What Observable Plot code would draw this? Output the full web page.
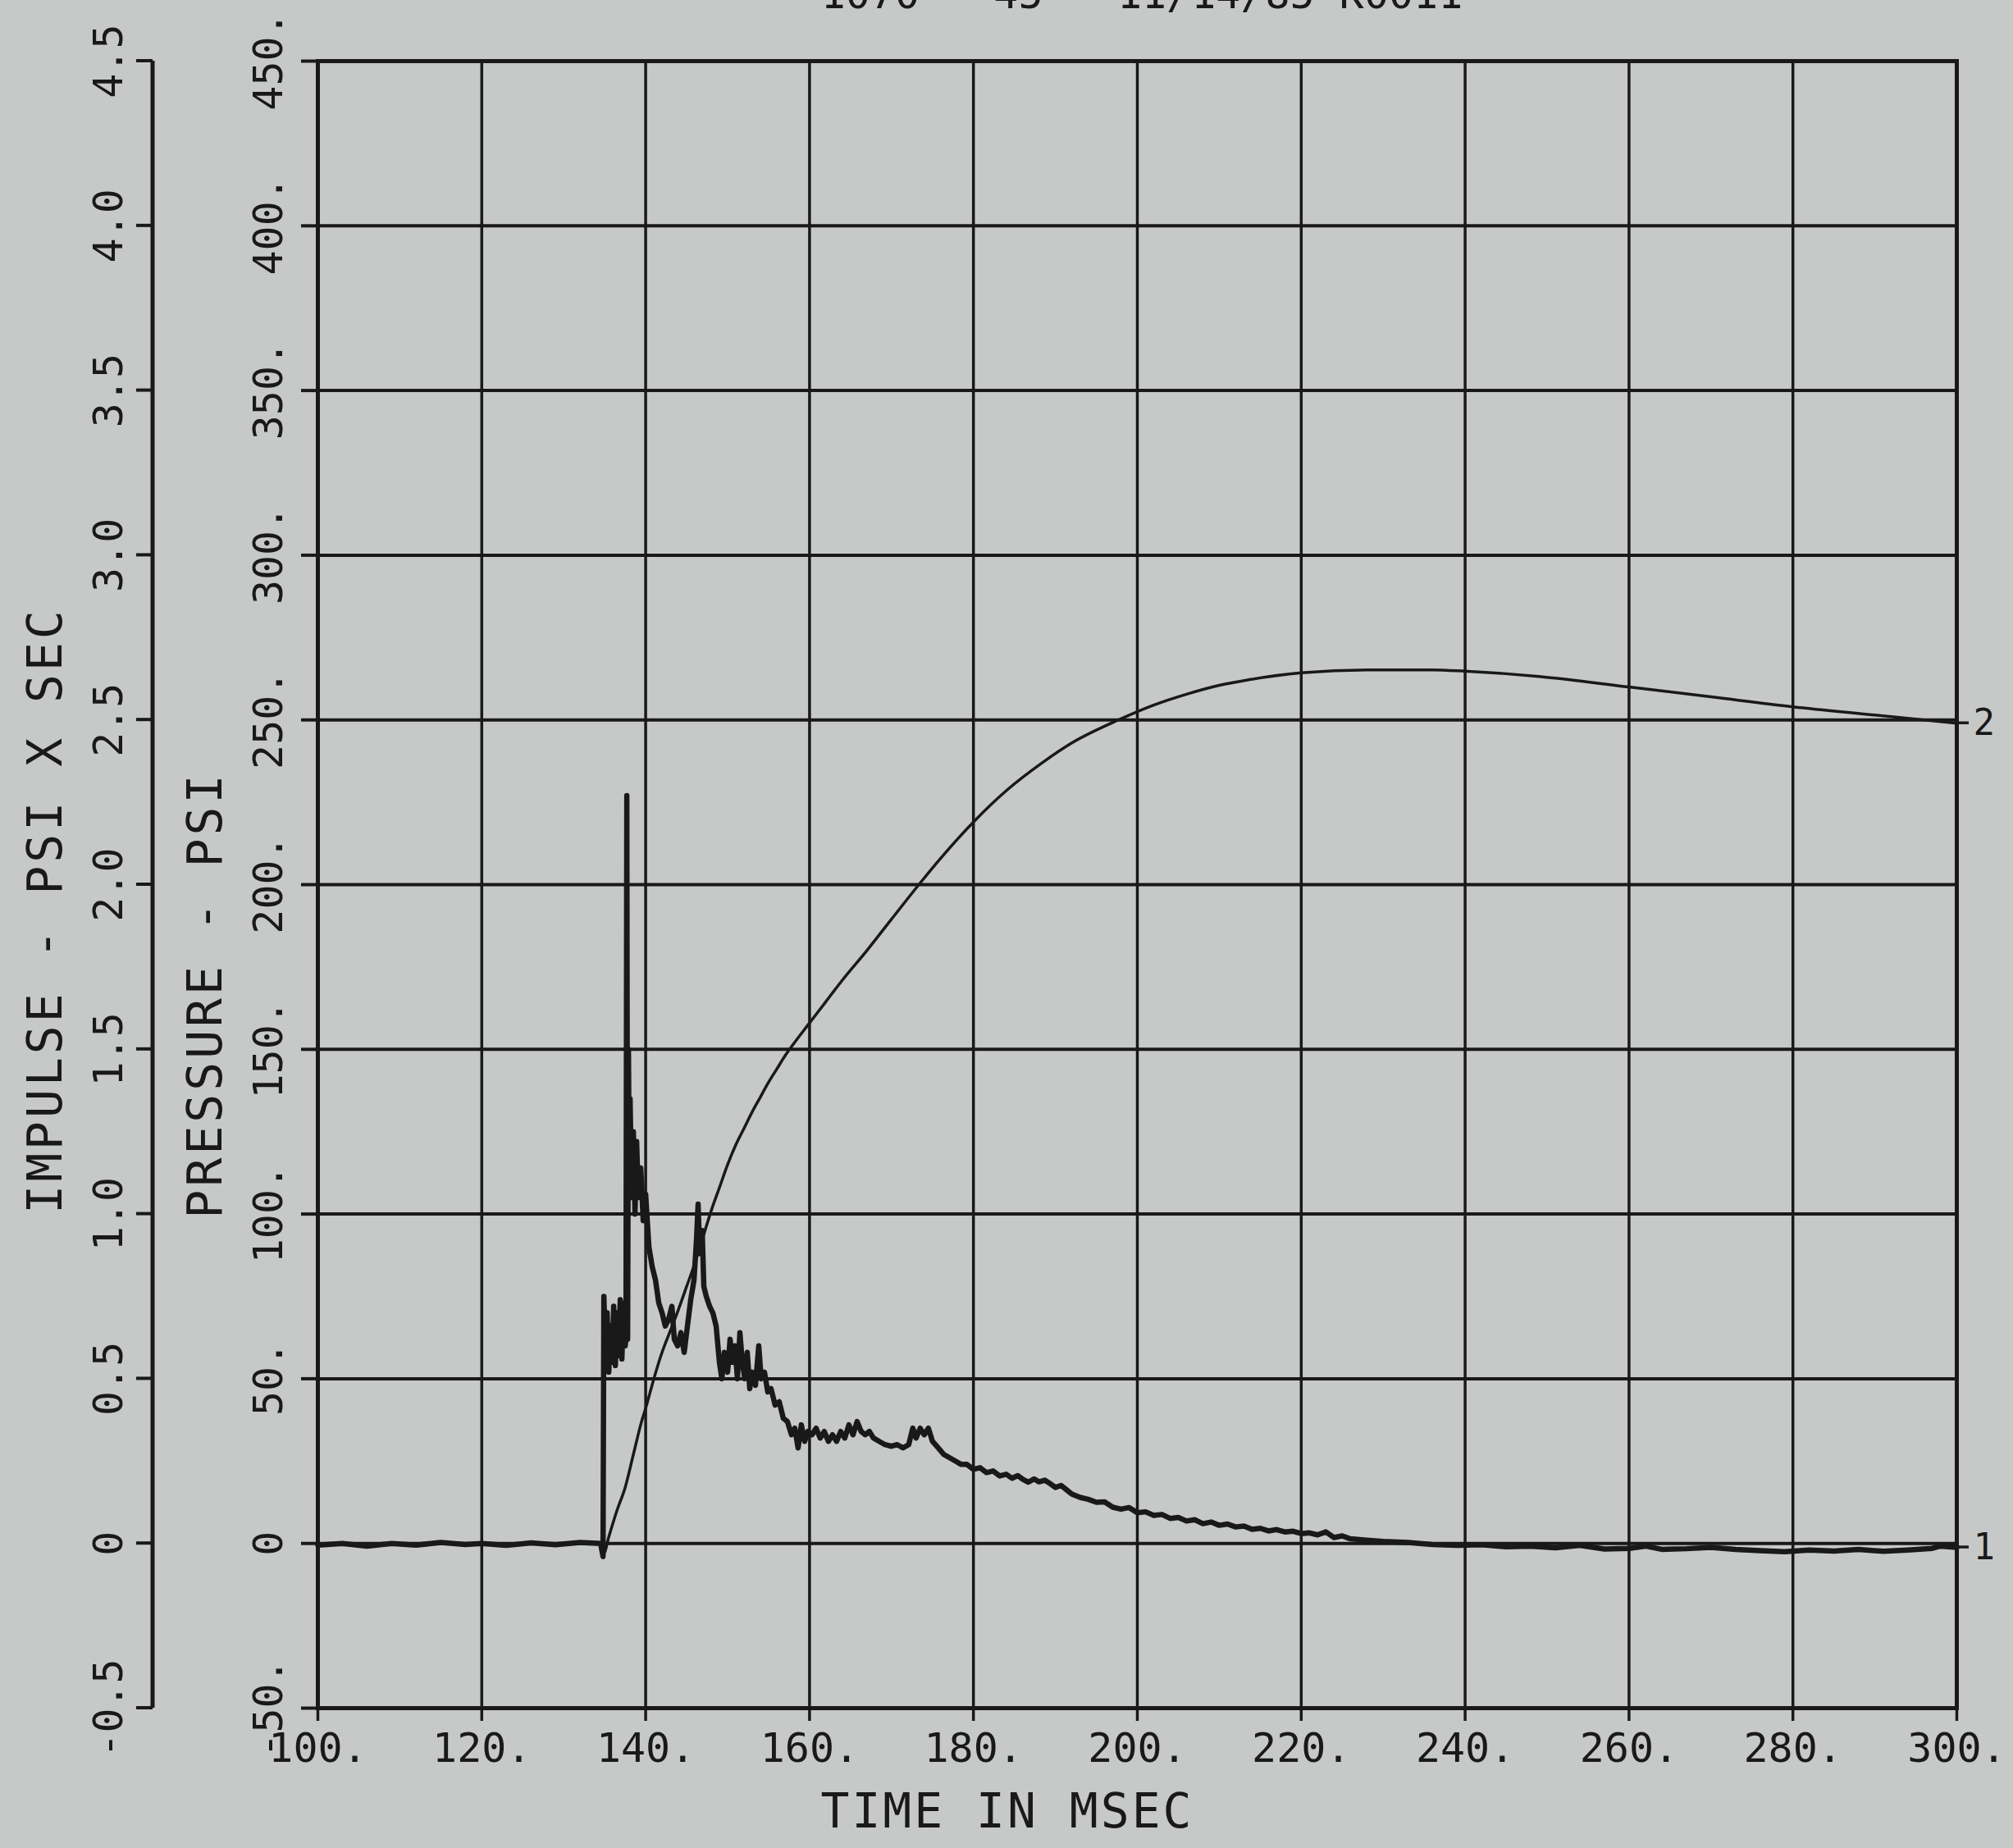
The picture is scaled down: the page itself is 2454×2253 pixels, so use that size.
<!DOCTYPE html>
<html>
<head>
<meta charset="utf-8">
<script src="https://cdn.jsdelivr.net/npm/d3@7"></script>
<script src="https://cdn.jsdelivr.net/npm/@observablehq/plot@0.6"></script>
<style>
  html, body { margin: 0; padding: 0; background: #c7c9c8; overflow: hidden; }
  #chart svg { display: block; overflow: hidden; }
</style>
</head>
<body>
<div id="chart"></div>
<script>
// ---------- data ----------
const xTicks = [100, 120, 140, 160, 180, 200, 220, 240, 260, 280, 300];
const xTickLabels = ["100.", "120.", "140.", "160.", "180.", "200.", "220.", "240.", "260.", "280.", "300."];
const pressureTicks = [-50, 0, 50, 100, 150, 200, 250, 300, 350, 400, 450];
const pressureTickLabels = ["-50.", "0", "50.", "100.", "150.", "200.", "250.", "300.", "350.", "400.", "450."];
const impulseTicks = [-0.5, 0, 0.5, 1.0, 1.5, 2.0, 2.5, 3.0, 3.5, 4.0, 4.5];
const impulseTickLabels = ["-0.5", "0", "0.5", "1.0", "1.5", "2.0", "2.5", "3.0", "3.5", "4.0", "4.5"];

// curve 1: pressure (psi) vs time (msec)
const pressureTime = [
  100, 103, 106, 109, 112, 115, 118, 120, 123, 126, 129, 132, 134.5, 134.8, 134.9,
  135.1, 135.3, 135.5, 135.7, 135.9, 136.1, 136.3, 136.5, 136.7, 136.9, 137.1, 137.3, 137.5,
  137.6, 137.7, 137.8, 137.9, 138.0, 138.1, 138.3, 138.5, 138.7, 138.9, 139.1, 139.4, 139.7,
  140.0, 140.4, 140.8, 141.2,
  141.6, 142.0, 142.4, 142.8, 143.2, 143.5, 143.9, 144.3, 144.7, 145.1, 145.5, 145.9,
  146.2, 146.4, 146.6, 146.9, 147.1, 147.4, 147.8, 148.2, 148.6, 149.0, 149.3, 149.6,
  150.0, 150.3, 150.6, 150.9, 151.2, 151.5, 151.8, 152.1, 152.4, 152.7, 153.0, 153.4,
  153.8, 154.1, 154.5, 154.9, 155.3, 155.8, 156.3, 156.8, 157.3, 157.8, 158.2, 158.6,
  159.0, 159.4, 159.8, 160.3, 160.8, 161.3, 161.8, 162.3, 162.8, 163.3, 163.8, 164.3,
  164.8, 165.3, 165.8, 166.3, 166.8, 167.3, 167.8, 168.5, 169.2, 170.0, 170.7, 171.4,
  172.1, 172.6, 173.0, 173.5, 174.0, 174.5, 175.0, 175.7, 176.4, 177.1, 177.8, 178.5,
  179.2, 180.0, 180.8, 181.6, 182.4, 183.2, 184, 184.7, 185.4, 186, 186.7, 187.4, 188, 188.7,
  189.4, 190, 190.7, 191.4, 192, 193, 194, 195, 196, 197, 198, 199, 200, 201, 202, 203, 204,
  205, 206, 207, 208, 209, 210, 211, 212, 213, 214, 215, 216, 217, 218, 219, 220, 221, 222,
  223, 224, 225, 226, 228, 230, 233, 236, 239, 242, 245, 248, 251, 254, 257,
  260, 262, 264, 267, 270, 273, 276, 279, 282, 285, 288, 291, 294, 297, 298, 300
];
const pressureValue = [
  -0.5, 0, -0.8, 0, -0.5, 0.3, -0.3, 0, -0.6, 0.2, -0.4, 0.3, 0, -4, 75,
  58, 70, 52, 66, 55, 72, 54, 70, 57, 74, 56, 73, 60,
  62, 227, 62, 150, 112, 135, 105, 125, 100, 122, 105, 114, 98,
  106, 90, 84, 80,
  73, 70, 66, 68, 72, 62, 60, 64, 58, 66, 74, 80,
  92, 103, 88, 95, 78, 75, 72, 70, 66, 55, 50, 58,
  52, 62, 55, 60, 50, 64, 55, 50, 58, 47, 52, 48,
  60, 50, 52, 46, 47, 42, 43, 38, 37, 33, 35, 29,
  36, 31, 34, 33, 35, 32, 34, 31, 33, 31, 34, 32,
  36, 33, 37, 34, 33, 34, 32, 31, 30, 29.5, 30, 29,
  30, 35, 32, 35, 33, 35, 31, 29, 27, 26, 25, 24,
  24, 22.5, 23, 21.5, 22, 20.5, 21, 19.8, 20.6, 19.5, 18.6, 19.6, 18.7, 19.2,
  18.1, 17, 17.6, 16.2, 15, 14, 13.4, 12.5, 12.6, 11, 10.4, 10.9, 9.3, 9.6, 8.5, 8.8, 7.6,
  7.9, 6.8, 7.2, 6, 6.5, 5.5, 5.9, 5, 5.3, 4.3, 4.6, 3.8, 4.2, 3.5, 3.7, 3, 3.2, 2.6,
  3.5, 1.8, 2.3, 1.4, 1, 0.6, 0.3, -0.3, -0.6, -0.4, -1, -0.8, -1.3, -0.6, -1.7,
  -1.5, -0.8, -1.8, -1.6, -1.2, -1.8, -2.2, -2.5, -2, -2.3, -1.8, -2.4, -2, -1.5, -0.8, -1.2
];

// curve 2: impulse (psi x sec) vs time (msec)
const impulseTime = [
  100, 134.5, 134.9, 135.5, 136.5, 137.5, 138.5, 139.5, 140, 141, 142, 143, 144, 145,
  146, 147, 148, 149, 150, 151, 152, 153, 154, 155, 156, 157, 158, 160, 162, 164, 167,
  170, 173.5, 176, 180, 184, 188.4, 192, 197.7, 202, 206, 210, 213.6, 220, 228, 236,
  240, 249, 260, 270, 280, 290, 300
];
const impulseValue = [
  0, 0, -0.03, 0.02, 0.10, 0.17, 0.27, 0.37, 0.41, 0.50, 0.58, 0.645, 0.71, 0.78,
  0.85, 0.93, 1.01, 1.08, 1.15, 1.21, 1.26, 1.31, 1.355, 1.40, 1.44, 1.48, 1.515, 1.58, 1.645, 1.71, 1.80,
  1.895, 2.005, 2.08, 2.19, 2.285, 2.37, 2.43, 2.50, 2.545, 2.578, 2.605, 2.622, 2.643, 2.652, 2.652,
  2.648, 2.632, 2.60, 2.57, 2.54, 2.515, 2.49
];
const curveLabels = ["1", "2"];

const titleText = "1070 - 45   11/14/85 K0011";
const xTitle = "TIME IN MSEC";
const pressureTitle = "PRESSURE - PSI";
const impulseTitle = "IMPULSE - PSI X SEC";

// ---------- build ----------
const ink = "#191919";
const font = "DejaVu Sans Mono";
const pressure = pressureTime.map((t, i) => ({t, p: pressureValue[i]}));
const impulse = impulseTime.map((t, i) => ({t, v: impulseValue[i]}));
// impulse axis shares the pressure scale: 1 psi·s == 100 psi on the plotted scale
const impulseToPressure = v => v * 100;

const chart = Plot.plot({
  width: 2454,
  height: 2253,
  marginTop: 74,
  marginBottom: 171,
  marginLeft: 387,
  marginRight: 69,
  style: {background: "#c7c9c8", fontFamily: font, color: ink},
  x: {domain: [100, 300]},
  y: {domain: [-50, 450]},
  marks: [
    Plot.ruleX(xTicks, {stroke: ink, strokeWidth: 3.5}),
    Plot.ruleY(pressureTicks, {stroke: ink, strokeWidth: 4}),
    Plot.frame({stroke: ink, strokeWidth: 5}),
    Plot.axisX({
      ticks: xTicks, tickSize: 16, tickPadding: 14, strokeWidth: 3.5,
      tickFormat: d => xTickLabels[xTicks.indexOf(d)],
      fontSize: 50, label: null
    }),
    Plot.axisY({
      ticks: pressureTicks, tickSize: 20, strokeWidth: 4,
      tickFormat: () => "", label: null
    }),
    Plot.text(pressureTicks, {
      y: d => d, frameAnchor: "left", dx: -60, rotate: -90, textAnchor: "middle",
      text: (d, i) => pressureTickLabels[i], fontSize: 50, fill: ink
    }),
    Plot.text(impulseTicks, {
      y: d => impulseToPressure(d), frameAnchor: "left", dx: -255, rotate: -90, textAnchor: "middle",
      text: (d, i) => impulseTickLabels[i], fontSize: 50, fill: ink
    }),
    Plot.line(impulse, {x: "t", y: d => impulseToPressure(d.v), stroke: ink, strokeWidth: 3.5, curve: "monotone-x"}),
    Plot.line(pressure, {x: "t", y: "p", stroke: ink, strokeWidth: 6.5, strokeLinejoin: "round"}),
    Plot.text([pressure[pressure.length - 1], {t: impulse[impulse.length - 1].t, p: impulseToPressure(impulse[impulse.length - 1].v)}], {
      x: "t", y: "p", text: (d, i) => curveLabels[i], dx: 20, textAnchor: "start",
      fontSize: 44, fill: ink
    })
  ]
});

document.getElementById("chart").appendChild(chart);

// extra axis (impulse) and titles, positioned with the plot's own scales
const ys = chart.scale("y");
const xs = chart.scale("x");
const svg = d3.select(chart);
const axisX = 186;
const ga = svg.append("g").attr("stroke", ink).attr("fill", "none");
ga.append("line")
  .attr("x1", axisX).attr("x2", axisX)
  .attr("y1", ys.apply(impulseToPressure(-0.5))).attr("y2", ys.apply(impulseToPressure(4.5)))
  .attr("stroke-width", 5);
impulseTicks.forEach(v => {
  ga.append("line")
    .attr("x1", axisX - 20).attr("x2", axisX)
    .attr("y1", ys.apply(impulseToPressure(v))).attr("y2", ys.apply(impulseToPressure(v)))
    .attr("stroke-width", 4);
});

// small ticks next to curve labels
[pressure[pressure.length - 1].p, impulseToPressure(impulse[impulse.length - 1].v)].forEach(v => {
  const yy = ys.apply(v);
  ga.append("line")
    .attr("x1", xs.apply(300)).attr("x2", xs.apply(300) + 15)
    .attr("y1", yy).attr("y2", yy).attr("stroke-width", 3.5);
});

const gt = svg.append("g").attr("fill", ink).attr("font-family", font);
gt.append("text")
  .attr("x", 1228).attr("y", 2228)
  .attr("text-anchor", "middle").attr("font-size", 58).attr("letter-spacing", 3)
  .text(xTitle);
gt.append("text")
  .attr("transform", "translate(250,1213) rotate(-90)")
  .attr("text-anchor", "middle").attr("dominant-baseline", "central")
  .attr("font-size", 58).attr("letter-spacing", 4)
  .text(pressureTitle);
gt.append("text")
  .attr("transform", "translate(55,1110) rotate(-90)")
  .attr("text-anchor", "middle").attr("dominant-baseline", "central")
  .attr("font-size", 58).attr("letter-spacing", 4)
  .text(impulseTitle);
gt.append("text")
  .attr("x", 1392).attr("y", 10)
  .attr("text-anchor", "middle").attr("font-size", 50)
  .text(titleText);
</script>
</body>
</html>
